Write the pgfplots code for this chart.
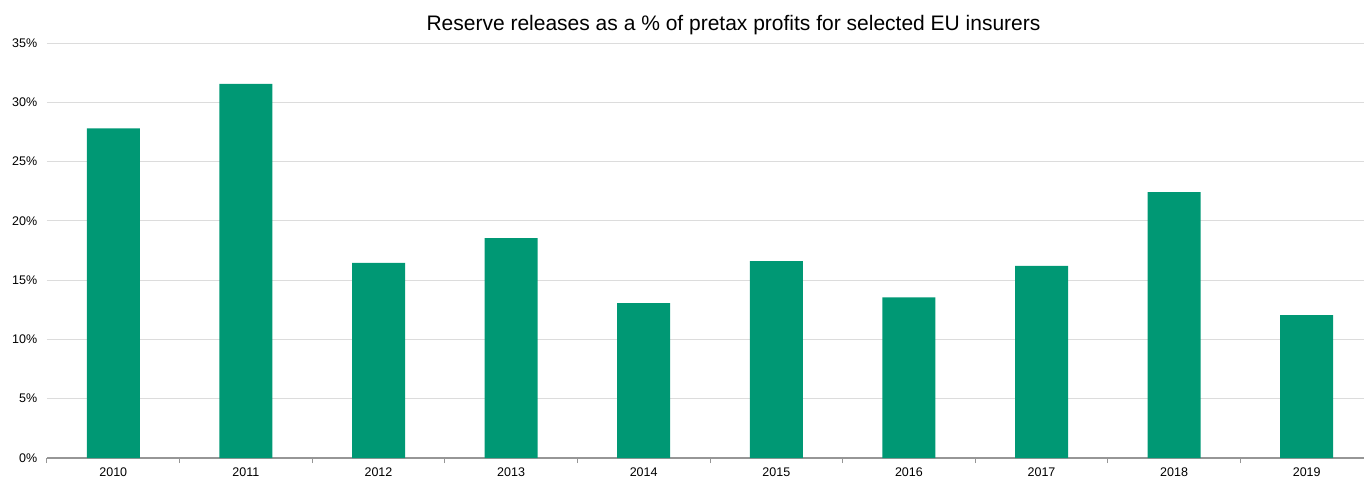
\documentclass[border=0pt]{standalone}
\usepackage{pgfplots}
\pgfplotsset{compat=1.18}
\usepackage{fontspec}
\setmainfont{Liberation Sans}
\definecolor{bargreen}{RGB}{0,152,116}
\definecolor{gridgrey}{RGB}{220,220,220}
\definecolor{axgrey}{RGB}{150,150,150}
\begin{document}
\begin{tikzpicture}[x=1pt,y=1pt]
\path[use as bounding box] (0,0) rectangle (1364,479);
\clip (0,0) rectangle (1364,479);
\node[font=\fontsize{21}{24}\selectfont] at (733.5,454) {Reserve releases as a \% of pretax profits for selected EU insurers};
\begin{axis}[
  at={(47pt,21pt)}, anchor=south west,
  scale only axis, width=1326pt, height=415pt,
  ymin=0, ymax=35, ytick={0,5,...,35},
  yticklabel={\pgfmathprintnumber{\tick}\%},
  xmin=-0.5, xmax=9.5,
  xtick={0,...,9},
  xticklabels={2010,2011,2012,2013,2014,2015,2016,2017,2018,2019},
  minor xtick={-0.5,0.5,...,8.5},
  major x tick style={draw=none},
  minor x tick style={draw=axgrey, line width=1pt},
  minor tick length=5pt,
  tick align=outside,
  axis x line*=bottom,
  axis y line*=left,
  y axis line style={draw=none},
  x axis line style={draw=axgrey, line width=1.2pt, -},
  ytick style={draw=none},
  ymajorgrids, grid style={gridgrey, line width=0.8pt},
  /pgf/number format/assume math mode=true,
  tick label style={font=\fontsize{12.5}{14}\selectfont},
  xticklabel style={yshift=-2pt},
  yticklabel style={xshift=-2pt},
  clip=false,
]
\addplot[ybar, bar width=53pt, fill=bargreen, draw=none] coordinates {
(0,27.8) (1,31.55) (2,16.45) (3,18.55) (4,13.07) (5,16.6) (6,13.55) (7,16.2) (8,22.43) (9,12.06)};
\end{axis}
\end{tikzpicture}
\end{document}
